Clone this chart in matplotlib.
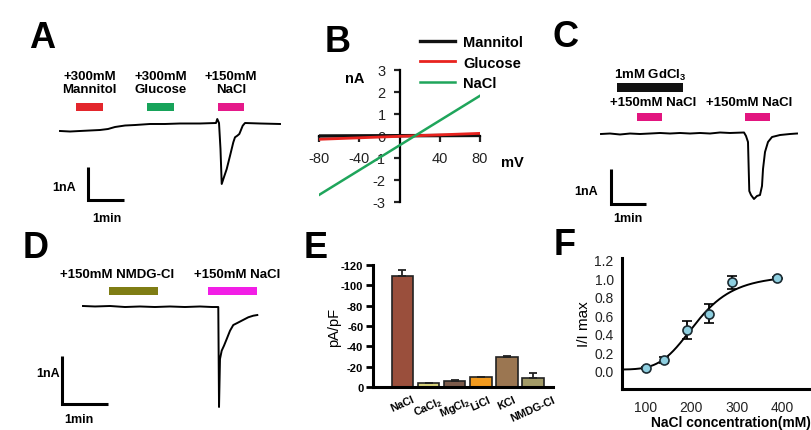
import numpy as np
import matplotlib
matplotlib.use('Agg')
import matplotlib.pyplot as plt
from matplotlib.patches import Rectangle
from matplotlib.transforms import ScaledTranslation

plt.rcParams['font.family'] = ['Liberation Sans', 'DejaVu Sans']
plt.rcParams['mathtext.fontset'] = 'custom'
plt.rcParams['mathtext.rm'] = 'Liberation Sans'
plt.rcParams['mathtext.bf'] = 'Liberation Sans:bold'
plt.rcParams['mathtext.it'] = 'Liberation Sans:italic'
plt.rcParams['axes.unicode_minus'] = False

# ------------------------------------------------------------------ data
# Panel A: whole-cell current trace (time in min, current in nA)
a_time = [0, 0.278, 0.556, 0.833, 1.111, 1.333, 1.528, 1.806, 2.083, 2.5, 2.917,
          3.333, 3.889, 4.333, 4.369, 4.417, 4.458, 4.492, 4.556, 4.631, 4.722,
          4.814, 4.861, 4.925, 4.981, 5.019, 5.075, 5.139, 5.556, 6.111]
a_curr = [-0.242, -0.258, -0.242, -0.227, -0.212, -0.182, -0.121, -0.076, -0.061,
          -0.030, -0.030, -0.015, -0.015, 0.0, 0.121, 0.0, -0.788, -1.848, -1.636,
          -1.394, -0.997, -0.585, -0.433, -0.385, -0.333, -0.233, -0.082, 0.0,
          -0.015, -0.030]
a_labels = ['+300mM\nMannitol', '+300mM\nGlucose', '+150mM\nNaCl']
a_start = [0.44, 2.42, 4.39]
a_end = [1.19, 3.17, 5.11]
a_colors = ['#e3262c', '#17a35a', '#e5198a']

# Panel B: I-V relations (mV, nA)
b_voltage = [-80, 80]
b_mannitol = [0.0, 0.03]
b_glucose = [-0.15, 0.12]
b_nacl = [-2.68, 1.83]

# Panel C: trace with GdCl3 block
c_time = [0, 0.257, 0.543, 0.829, 1.114, 1.4, 1.686, 1.971, 2.257, 2.543, 2.829,
          3.114, 3.4, 3.686, 4.086, 4.143, 4.2, 4.22, 4.237, 4.286, 4.371, 4.457,
          4.543, 4.6, 4.629, 4.686, 4.771, 4.886, 5.114, 5.4, 5.6]
c_curr = [0, 0.014, -0.014, 0.014, 0, 0.014, 0.029, 0.014, 0.029, 0.014, 0.029,
          0.014, 0.043, 0.029, 0.043, -0.057, -0.229, -1.0, -1.629, -1.743, -1.857,
          -1.771, -1.743, -1.486, -1.0, -0.514, -0.229, -0.086, -0.029, 0, 0.014]
c_gd_start, c_gd_end = 0.457, 2.343
c_na_start = [1.029, 4.114]
c_na_end = [1.743, 4.829]

# Panel D: NMDG-Cl vs NaCl trace
d_time = [0, 0.261, 0.587, 0.913, 1.239, 1.565, 1.891, 2.217, 2.543, 2.804, 2.941,
          2.957, 2.978, 3.015, 3.065, 3.124, 3.196, 3.267, 3.354, 3.45, 3.593,
          3.702, 3.789]
d_curr = [0, -0.010, 0, -0.021, -0.010, -0.021, -0.010, -0.021, -0.010, -0.021,
          -0.021, -2.104, -1.104, -0.931, -0.827, -0.688, -0.515, -0.396, -0.354,
          -0.306, -0.235, -0.202, -0.188]
d_labels = ['+150mM NMDG-Cl', '+150mM NaCl']
d_start = [0.565, 2.717]
d_end = [1.630, 3.783]
d_colors = ['#7f7d14', '#f21ee6']

# Panel E: current density per salt
e_categories = ['NaCl', 'CaCl$_\\mathbf{2}$', 'MgCl$_\\mathbf{2}$', 'LiCl', 'KCl', 'NMDG-Cl']
e_values = [-109, -3.6, -6.2, -9.5, -29.8, -8.6]
e_errors = [6.0, 0.8, 0.5, 0.6, 1.0, 5.0]
e_colors = ['#9a4f3c', '#d8d27a', '#7b5a4a', '#f29a1e', '#9b7651', '#a39b67']
e_yticks = [-120, -100, -80, -60, -40, -20, 0]

# Panel F: dose response
f_conc = [100, 140, 190, 240, 290, 390]
f_resp = [0.03, 0.12, 0.44, 0.62, 0.96, 1.0]
f_err = [0.01, 0.03, 0.10, 0.10, 0.07, 0.01]
f_bottom, f_top, f_k, f_n = 0.015, 1.04, 212.0, 5.0
f_xticks = [100, 200, 300, 400]
f_yticks = [0.0, 0.2, 0.4, 0.6, 0.8, 1.0, 1.2]

# ------------------------------------------------------------------ layout helpers
W, H = 811, 431
fig = plt.figure(figsize=(W / 100, H / 100), dpi=100)


def rect(x0, y0, x1, y1):
    return [x0 / W, 1 - y1 / H, (x1 - x0) / W, (y1 - y0) / H]


def fpos(x, y):
    return x / W, 1 - y / H


def trace_axes(x0, y0, x1, y1, ox, oy, sx, sy):
    ax = fig.add_axes(rect(x0, y0, x1, y1))
    ax.set_xlim((x0 - ox) / sx, (x1 - ox) / sx)
    ax.set_ylim((oy - y1) / sy, (oy - y0) / sy)
    ax.axis('off')
    tx = lambda px: (px - ox) / sx
    ty = lambda py: (oy - py) / sy
    return ax, tx, ty


def scale_bar(ax, t0, i0):
    ax.plot([t0, t0, t0 + 1], [i0 + 1, i0, i0], color='black', lw=2.2,
            solid_joinstyle='miter', solid_capstyle='butt')


def app_bar(ax, t0, t1, i0, i1, color):
    ax.add_patch(Rectangle((t0, i0), t1 - t0, i1 - i0, facecolor=color,
                           edgecolor='none'))


LBL = dict(fontsize=9.5, fontweight='bold', ha='center', va='center')
LETTER = dict(fontsize=26, fontweight='bold', ha='center', va='baseline')

# ------------------------------------------------------------------ panel A
axA, tx, ty = trace_axes(45, 55, 292, 232, 60, 124, 36, 33)
axA.plot(a_time, a_curr, color='black', lw=1.4)
for s, e, c, lab in zip(a_start, a_end, a_colors, a_labels):
    app_bar(axA, s, e, ty(112), ty(104), c)
    axA.text((s + e) / 2, ty(83.5), lab, linespacing=1.2, **LBL)
scale_bar(axA, tx(88), ty(201))
axA.text(tx(76), ty(188), '1nA', fontsize=9, fontweight='bold', ha='right', va='center')
axA.text(tx(107), ty(219), '1min', fontsize=9, fontweight='bold', ha='center', va='center')

# ------------------------------------------------------------------ panel B
axB = fig.add_axes(rect(319, 71, 480, 203))
axB.plot(b_voltage, b_mannitol, color='#111111', lw=2.4, label='Mannitol', zorder=3)
axB.plot(b_voltage, b_glucose, color='#e8231f', lw=2.0, label='Glucose', zorder=4)
axB.plot(b_voltage, b_nacl, color='#1fa55b', lw=1.8, label='NaCl', zorder=4)
axB.set_xlim(-80, 80)
axB.set_ylim(-3, 3)
axB.spines['left'].set_position(('data', 0))
axB.spines['bottom'].set_position(('data', 0))
axB.spines['right'].set_visible(False)
axB.spines['top'].set_visible(False)
for s in ['left', 'bottom']:
    axB.spines[s].set_linewidth(1.6)
axB.set_xticks([-80, -40, 40, 80])
axB.set_yticks(range(-3, 4))
axB.tick_params(direction='out', length=4, width=1.6, labelsize=10.5,
                colors='#222222', pad=6)
axB.tick_params(axis='x', pad=7)
axB.patch.set_alpha(0)
axB.legend(loc='upper left', bbox_to_anchor=fpos(420, 36), bbox_transform=fig.transFigure,
           frameon=False, prop={'weight': 'bold', 'size': 10.5}, handlelength=2.4,
           handletextpad=0.55, labelspacing=0.45, borderpad=0, borderaxespad=0)
fig.text(*fpos(355, 79), 'nA', fontsize=10.5, fontweight='bold', ha='center', va='center')
fig.text(*fpos(512, 163), 'mV', fontsize=10.5, fontweight='bold', ha='center', va='center')

# ------------------------------------------------------------------ panel C
axC, tx, ty = trace_axes(560, 55, 811, 232, 601, 135, 35, 35)
axC.plot(c_time, c_curr, color='black', lw=1.4)
app_bar(axC, c_gd_start, c_gd_end, ty(93), ty(84), '#111111')
axC.text((c_gd_start + c_gd_end) / 2, ty(75), '1mM GdCl$_\\mathbf{3}$', **LBL)
for s, e in zip(c_na_start, c_na_end):
    app_bar(axC, s, e, ty(122), ty(114), '#e2157f')
axC.text(tx(653), ty(103), '+150mM NaCl', **LBL)
axC.text(tx(749), ty(103), '+150mM NaCl', **LBL)
scale_bar(axC, tx(611), ty(205))
axC.text(tx(598), ty(192), '1nA', fontsize=9, fontweight='bold', ha='right', va='center')
axC.text(tx(628), ty(219), '1min', fontsize=9, fontweight='bold', ha='center', va='center')

# ------------------------------------------------------------------ panel D
axD, tx, ty = trace_axes(0, 232, 292, 431, 83, 307, 46, 48)
axD.plot(d_time, d_curr, color='black', lw=1.4)
for s, e, c in zip(d_start, d_end, d_colors):
    app_bar(axD, s, e, ty(296), ty(288), c)
axD.text(tx(117), ty(275), d_labels[0], **LBL)
axD.text(tx(237), ty(275), d_labels[1], **LBL)
scale_bar(axD, tx(62), ty(405))
axD.text(tx(60), ty(374), '1nA', fontsize=9, fontweight='bold', ha='right', va='center')
axD.text(tx(79), ty(420), '1min', fontsize=9, fontweight='bold', ha='center', va='center')

# ------------------------------------------------------------------ panel E
axE = fig.add_axes(rect(373, 266, 553, 388))
xe = np.arange(len(e_categories))
axE.bar(xe, e_values, width=0.83, color=e_colors, edgecolor='#222222', linewidth=1.2, zorder=2)
axE.errorbar(xe, e_values, yerr=[e_errors, np.zeros(len(xe))], fmt='none', ecolor='#222222',
             elinewidth=1.3, capsize=3.2, capthick=1.3, zorder=3)
axE.set_xlim(-1.13, 5.77)
axE.set_ylim(0, -120)
axE.set_yticks(e_yticks)
axE.set_yticklabels([str(v) for v in e_yticks], fontweight='bold')
axE.set_xticks(xe)
axE.set_xticklabels(e_categories, rotation=24, ha='center', va='top',
                    fontweight='bold', fontsize=7.8)
shift = ScaledTranslation(-9 / 100, 0, fig.dpi_scale_trans)
for lbl in axE.get_xticklabels():
    lbl.set_transform(lbl.get_transform() + shift)
axE.spines['right'].set_visible(False)
axE.spines['top'].set_visible(False)
for s in ['left', 'bottom']:
    axE.spines[s].set_linewidth(2.2)
axE.tick_params(axis='y', length=5, width=2, labelsize=8, pad=2)
axE.tick_params(axis='x', length=0, pad=5)
axE.set_ylabel('pA/pF', fontsize=10.5)
axE.yaxis.set_label_coords(-0.18, 0.5)

# ------------------------------------------------------------------ panel F
axF = fig.add_axes(rect(622, 259, 811, 390))
xs = np.linspace(47, 400, 300)
fit = f_bottom + (f_top - f_bottom) / (1 + (f_k / xs) ** f_n)
axF.plot(xs, fit, color='black', lw=1.4, zorder=2)
axF.errorbar(f_conc, f_resp, yerr=f_err, fmt='o', mfc='#8ecfe0', mec='#1c2c33', ms=6.5,
             mew=1.2, ecolor='black', elinewidth=1.3, capsize=3.6, capthick=1.3, zorder=3)
axF.set_xlim(47, 464)
axF.set_ylim(-0.195, 1.22)
axF.set_xticks(f_xticks)
axF.set_yticks(f_yticks)
axF.set_yticklabels(['%.1f' % v for v in f_yticks])
axF.spines['right'].set_visible(False)
axF.spines['top'].set_visible(False)
for s in ['left', 'bottom']:
    axF.spines[s].set_linewidth(2.2)
axF.tick_params(length=0, labelsize=10, colors='#222222')
axF.tick_params(axis='y', pad=6)
axF.tick_params(axis='x', pad=8)
axF.set_xlabel('NaCl concentration(mM)', fontsize=10, fontweight='bold')
axF.xaxis.set_label_coords((731 - 622) / (811 - 622), -0.2)
axF.set_ylabel('I/I max', fontsize=11)
axF.yaxis.set_label_coords(-0.165, 0.5)

# ------------------------------------------------------------------ panel letters
for lab, x, y in [('A', 42.5, 48), ('B', 338, 52), ('C', 565, 47),
                  ('D', 36, 258), ('E', 316, 258), ('F', 565, 255)]:
    fig.text(*fpos(x, y), lab, **LETTER)

fig.savefig('out.png', dpi=100)
